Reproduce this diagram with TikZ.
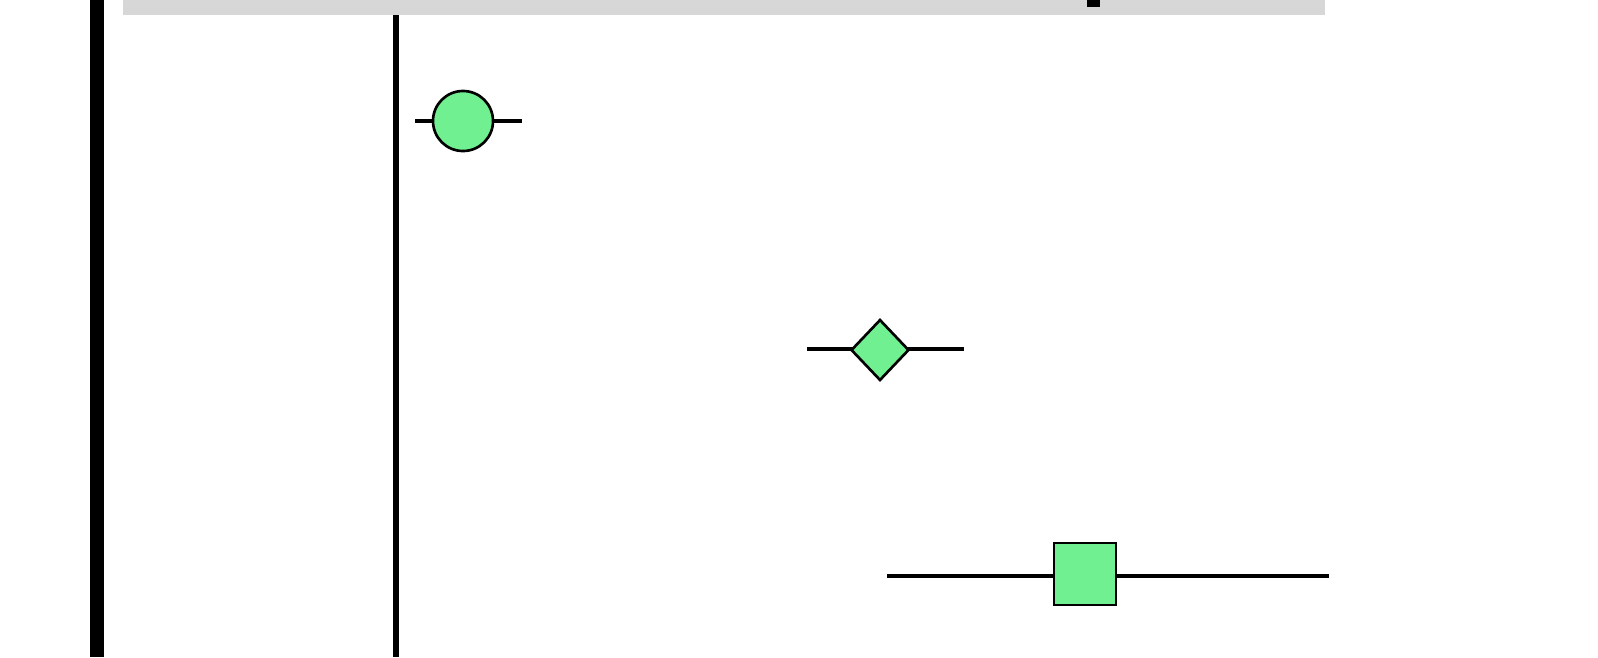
\documentclass[tikz,border=0pt]{standalone}
\usepackage{xcolor}
\usepackage{tikz}
\usetikzlibrary{shapes,positioning,calc}
\definecolor{markgreen}{RGB}{112,240,144}
\definecolor{bargray}{RGB}{215,215,215}

\begin{document}
\begin{tikzpicture}[x=0.01cm, y=-0.01cm,
    whisker/.style={line width=1.4pt},
    marker/.style={draw, fill=markgreen, line width=0.75pt, inner sep=0pt}]

    \useasboundingbox (0,0) rectangle (1598,657);

    % header strip and axes
    \fill[bargray] (123,0) rectangle (1325,15);
    \fill[black] (1087,0) rectangle (1100,7);
    \draw[line width=3.8pt] (97,0) -- (97,657);
    \draw[line width=1.9pt] (396,15) -- (396,657);

    % estimates
    \coordinate (c1l) at (415,121);
    \coordinate (c1r) at (522,121);
    \coordinate (d1l) at (807,349);
    \coordinate (d1r) at (964,349);
    \coordinate (s1l) at (887,576);
    \coordinate (s1r) at (1329,576);

    \draw[whisker] (c1l) -- (c1r);
    \draw[whisker] (d1l) -- (d1r);
    \draw[whisker] (s1l) -- (s1r);

    \node[marker, circle, minimum size=0.6cm] (est1) at (463,121) {};
    \node[marker, diamond, minimum width=0.58cm, minimum height=0.61cm] (est2) at (880,350) {};
    \node[marker, rectangle, minimum size=0.62cm] (est3) at (1085,574) {};
\end{tikzpicture}
\end{document}
